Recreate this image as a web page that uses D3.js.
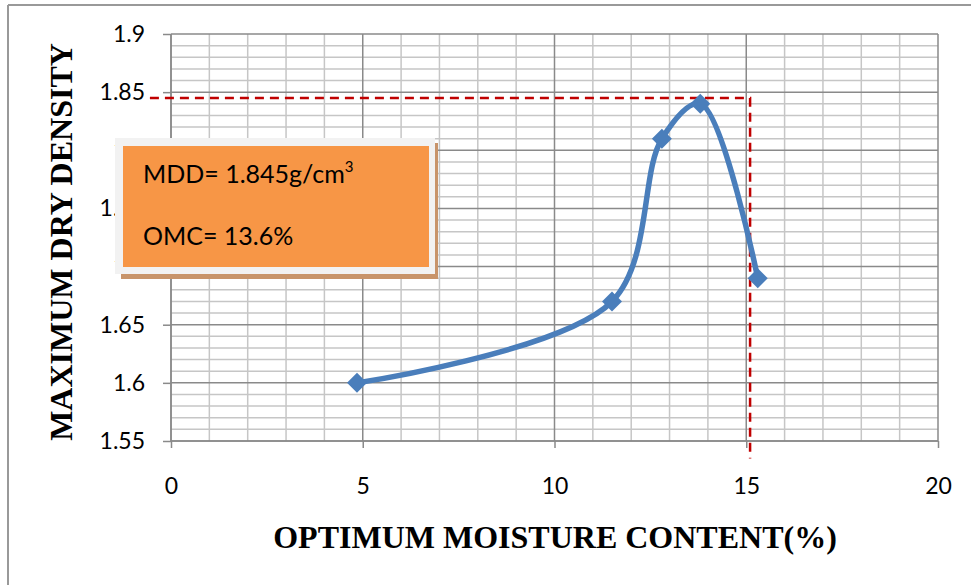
<!DOCTYPE html>
<html><head><meta charset="utf-8">
<script src="https://cdn.jsdelivr.net/npm/d3@7/dist/d3.min.js"></script>
<style>html,body{margin:0;padding:0;background:#fff;}svg{display:block;}</style>
</head><body>
<svg id="c" width="971" height="585"></svg>
<script>
// Data
const moisture = [4.85, 11.5, 12.8, 13.8, 15.3];
const density = [1.600, 1.670, 1.810, 1.840, 1.690];
const xTicks = [0, 5, 10, 15, 20];
const yTicks = [1.55, 1.6, 1.65, 1.7, 1.75, 1.8, 1.85, 1.9];
const yTickLabels = ["1.55", "1.6", "1.65", "1.7", "1.75", "1.8", "1.85", "1.9"];
const refDensity = 1.845;
const refMoisture = 15.1;
const refStartX = -0.55;
const refEndY = 1.535;
const annoLines = ["MDD= 1.845g/cm", "OMC= 13.6%"];
const xTitle = "OPTIMUM MOISTURE CONTENT(%)";
const yTitle = "MAXIMUM DRY DENSITY";

const svg = d3.select("#c");
const x = d3.scaleLinear().domain([0, 20]).range([171, 938]);
const y = d3.scaleLinear().domain([1.55, 1.9]).range([441, 34]);

// outer border (top + left)
svg.append("line").attr("x1", 8).attr("x2", 971).attr("y1", 5).attr("y2", 5).attr("stroke", "#999").attr("stroke-width", 2);
svg.append("line").attr("x1", 8).attr("x2", 8).attr("y1", 5).attr("y2", 585).attr("stroke", "#999").attr("stroke-width", 2);

// grid
const g = svg.append("g");
const minorX = d3.range(0, 21, 1).filter(v => v % 5 !== 0);
const minorY = d3.range(155, 191, 1).map(v => v / 100).filter(v => Math.round(v * 100) % 5 !== 0);
g.selectAll(".mx").data(minorX).join("line").attr("x1", d => x(d)).attr("x2", d => x(d)).attr("y1", y(1.9)).attr("y2", y(1.55)).attr("stroke", "#c6c6c6").attr("stroke-width", 1.5);
g.selectAll(".my").data(minorY).join("line").attr("x1", x(0)).attr("x2", x(20)).attr("y1", d => y(d)).attr("y2", d => y(d)).attr("stroke", "#c6c6c6").attr("stroke-width", 1.5);
g.selectAll(".Mx").data(xTicks).join("line").attr("x1", d => x(d)).attr("x2", d => x(d)).attr("y1", y(1.9)).attr("y2", y(1.55)).attr("stroke", "#8a8a8a").attr("stroke-width", 1.5);
g.selectAll(".My").data(yTicks).join("line").attr("x1", x(0)).attr("x2", x(20)).attr("y1", d => y(d)).attr("y2", d => y(d)).attr("stroke", "#8a8a8a").attr("stroke-width", 1.5);

// axes
const xAxis = d3.axisBottom(x).tickValues(xTicks).tickSize(7).tickPadding(30).tickFormat(d3.format("d"));
const yAxis = d3.axisLeft(y).tickValues(yTicks).tickSize(8).tickPadding(18).tickFormat((d, i) => yTickLabels[i]);
const gx = svg.append("g").attr("transform", `translate(0,${y(1.55)})`).call(xAxis);
const gy = svg.append("g").attr("transform", `translate(${x(0)},0)`).call(yAxis);
[gx, gy].forEach(a => {
  a.select(".domain").attr("stroke", "#8a8a8a").attr("stroke-width", 1.5);
  a.selectAll(".tick line").attr("stroke", "#8a8a8a").attr("stroke-width", 1.5);
  a.selectAll("text").attr("font-family", "Lato, 'Open Sans', sans-serif").attr("font-size", 23).attr("fill", "#000");
});
gx.select(".domain").attr("d", `M${x(0)},0H${x(20)}`);
gy.select(".domain").attr("d", `M0,${y(1.9)}V${y(1.55)}`);

// reference dashed lines
const refPts = [[refStartX, refDensity], [refMoisture, refDensity], [refMoisture, refEndY]];
svg.append("path").attr("d", d3.line().x(d => x(d[0])).y(d => y(d[1]))(refPts))
  .attr("fill", "none").attr("stroke", "#C00000").attr("stroke-width", 2.5).attr("stroke-dasharray", "9,6");

// series
const pts = moisture.map((m, i) => [m, density[i]]);
svg.append("path").attr("d", d3.line().x(d => x(d[0])).y(d => y(d[1])).curve(d3.curveCatmullRom.alpha(0.5))(pts))
  .attr("fill", "none").attr("stroke", "#4A7EBB").attr("stroke-width", 5.5).attr("stroke-linecap", "round");
svg.selectAll(".pt").data(pts).join("path")
  .attr("transform", d => `translate(${x(d[0])},${y(d[1])})`)
  .attr("d", "M0,-10L10,0L0,10L-10,0Z").attr("fill", "#4A7EBB");

// annotation box
const box = svg.append("g");
box.append("rect").attr("x", 121).attr("y", 143).attr("width", 317).attr("height", 136).attr("fill", "#c8946a");
box.append("rect").attr("x", 115).attr("y", 138).attr("width", 320).attr("height", 136).attr("fill", "#f2f2f2");
box.append("rect").attr("x", 123).attr("y", 146).attr("width", 306).attr("height", 121).attr("fill", "#F79646");
const t1 = box.append("text").attr("x", 143).attr("y", 183).attr("font-family", "Lato, sans-serif").attr("font-size", 25).attr("fill", "#000");
t1.append("tspan").text(annoLines[0]);
t1.append("tspan").attr("font-size", 15).attr("dy", -11).text("3");
box.append("text").attr("x", 143).attr("y", 245).attr("font-family", "Lato, sans-serif").attr("font-size", 25).attr("fill", "#000").text(annoLines[1]);

// axis titles
svg.append("text").attr("x", 555).attr("y", 548).attr("text-anchor", "middle")
  .attr("font-family", "'Liberation Serif', 'Times New Roman', serif").attr("font-weight", "bold").attr("font-size", 32).text(xTitle);
svg.append("text").attr("transform", "translate(72,242) rotate(-90)").attr("text-anchor", "middle")
  .attr("font-family", "'Liberation Serif', 'Times New Roman', serif").attr("font-weight", "bold").attr("font-size", 32).text(yTitle);
</script>
</body></html>
